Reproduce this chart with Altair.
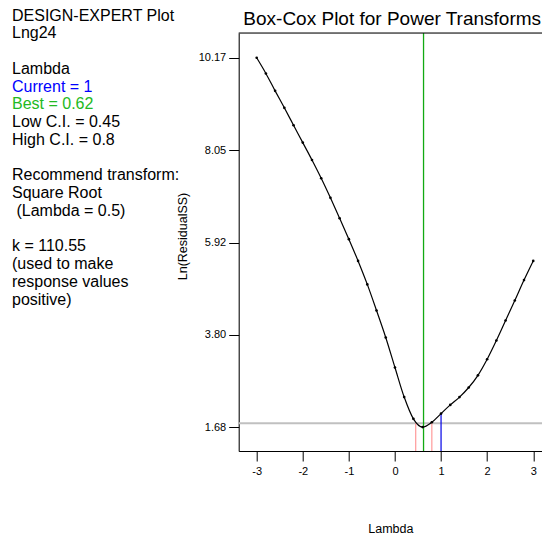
import altair as alt
import pandas as pd

FONT = "Liberation Sans, Arial, sans-serif"

# Box-Cox curve (lambda vs Ln(ResidualSS))
lambdas = [-3.0, -2.8, -2.6, -2.4, -2.2, -2.0, -1.8, -1.6, -1.4, -1.2, -1.0,
           -0.8, -0.6, -0.4, -0.2, 0.0, 0.2, 0.4, 0.6, 0.8, 1.0,
           1.2, 1.4, 1.6, 1.8, 2.0, 2.2, 2.4, 2.6, 2.8, 3.0]
ln_ss = [10.17, 9.81, 9.41, 9.02, 8.62, 8.22, 7.82, 7.40, 6.95, 6.48, 6.00,
         5.50, 4.96, 4.36, 3.74, 3.05, 2.37, 1.87, 1.68, 1.79, 1.99,
         2.19, 2.37, 2.59, 2.87, 3.24, 3.67, 4.13, 4.59, 5.06, 5.50]

y_ticks = [1.68, 3.80, 5.92, 8.05, 10.17]
x_ticks = [-3, -2, -1, 0, 1, 2, 3]

current_lambda = 1.0
current_ss = 1.99
best_lambda = 0.62
ci_lambdas = [0.45, 0.8]
ci_level = 1.77

X_DOMAIN = [-3.39, 3.19]
Y_DOMAIN = [1.13, 10.74]

title_text = "Box-Cox Plot for Power Transforms"
info_lines = ["DESIGN-EXPERT Plot", "Lng24", "", "Lambda", "Current = 1",
              "Best = 0.62", "Low C.I. = 0.45", "High C.I. = 0.8", "",
              "Recommend transform:", "Square Root", "\u200b\u00a0(Lambda = 0.5)", "",
              "k = 110.55", "(used to make", "response values", "positive)"]
info_colors = ["black", "black", "black", "black", "#0000ff",
               "#22b922", "black", "black", "black",
               "black", "black", "black", "black",
               "black", "black", "black", "black"]

W, H = 303.3, 418

curve = pd.DataFrame({"lam": lambdas, "ss": ln_ss})
xs = alt.Scale(domain=X_DOMAIN, nice=False, zero=False)
ys = alt.Scale(domain=Y_DOMAIN, nice=False, zero=False)

x_axis = alt.Axis(values=x_ticks, labelExpr="'' + datum.value", title="Lambda",
                  tickSize=10, labelPadding=4, titlePadding=46, grid=False,
                  labelFontSize=11, titleFontSize=12.5, titleFontWeight="normal",
                  labelFont=FONT, titleFont=FONT, domainColor="black",
                  tickColor="black", labelColor="black", titleColor="black",
                  labelFlush=False)
y_axis = alt.Axis(values=y_ticks, format=".2f", title="Ln(ResidualSS)",
                  tickSize=10, labelPadding=3, titlePadding=9, grid=False,
                  labelFontSize=11, titleFontSize=12.5, titleFontWeight="normal",
                  labelFont=FONT, titleFont=FONT, domainColor="black",
                  tickColor="black", labelColor="black", titleColor="black",
                  titleY=203)

line = alt.Chart(curve).mark_line(color="black", strokeWidth=1.2,
                                  interpolate="monotone").encode(
    x=alt.X("lam:Q", scale=xs, axis=x_axis),
    y=alt.Y("ss:Q", scale=ys, axis=y_axis),
)
pts = alt.Chart(curve).mark_circle(color="black", size=7, opacity=1).encode(
    x="lam:Q", y="ss:Q")

grey = alt.Chart(pd.DataFrame({"y": [ci_level]})).mark_rule(
    color="#c0c0c0", strokeWidth=2).encode(y="y:Q")
top = alt.Chart(pd.DataFrame({"y": [Y_DOMAIN[1]]})).mark_rule(
    color="black", strokeWidth=1).encode(y="y:Q")
green = alt.Chart(pd.DataFrame({"x": [best_lambda]})).mark_rule(
    color="#12aa12", strokeWidth=1.3).encode(x="x:Q")
pink = alt.Chart(pd.DataFrame({"x": ci_lambdas, "y": [Y_DOMAIN[0]] * 2,
                               "y2": [ci_level] * 2})).mark_rule(
    color="#ff9a9a", strokeWidth=1.2).encode(x="x:Q", y="y:Q", y2="y2:Q")
blue = alt.Chart(pd.DataFrame({"x": [current_lambda], "y": [Y_DOMAIN[0]],
                               "y2": [current_ss]})).mark_rule(
    color="#0000e6", strokeWidth=1.2).encode(x="x:Q", y="y:Q", y2="y2:Q")

info = pd.DataFrame({"row": list(range(len(info_lines))), "t": info_lines,
                     "c": info_colors})
info = info[info["t"] != ""]
text = alt.Chart(info).mark_text(align="left", baseline="middle", fontSize=16,
                                 font=FONT).transform_calculate(
    ypx="-17.5 + 17.75 * datum.row"
).encode(
    x=alt.value(-226.7),
    y=alt.Y("ypx:Q", scale=None, axis=None),
    text="t:N",
    color=alt.Color("c:N", scale=None),
)

title = alt.Chart(pd.DataFrame({"t": [title_text]})).mark_text(
    align="center", baseline="alphabetic", fontSize=19, font=FONT,
    color="black").encode(x=alt.value(153.5), y=alt.value(-8), text="t:N")

chart = alt.layer(grey, pink, blue, green, line, pts, top, text, title).properties(
    width=W, height=H,
    autosize=alt.AutoSizeParams(type="none"),
    padding={"left": 230.7, "top": 25, "right": 0, "bottom": 84},
).configure_view(stroke=None).configure(background="white")

chart.save("out.html", embed_options={"renderer": "svg", "actions": False})
